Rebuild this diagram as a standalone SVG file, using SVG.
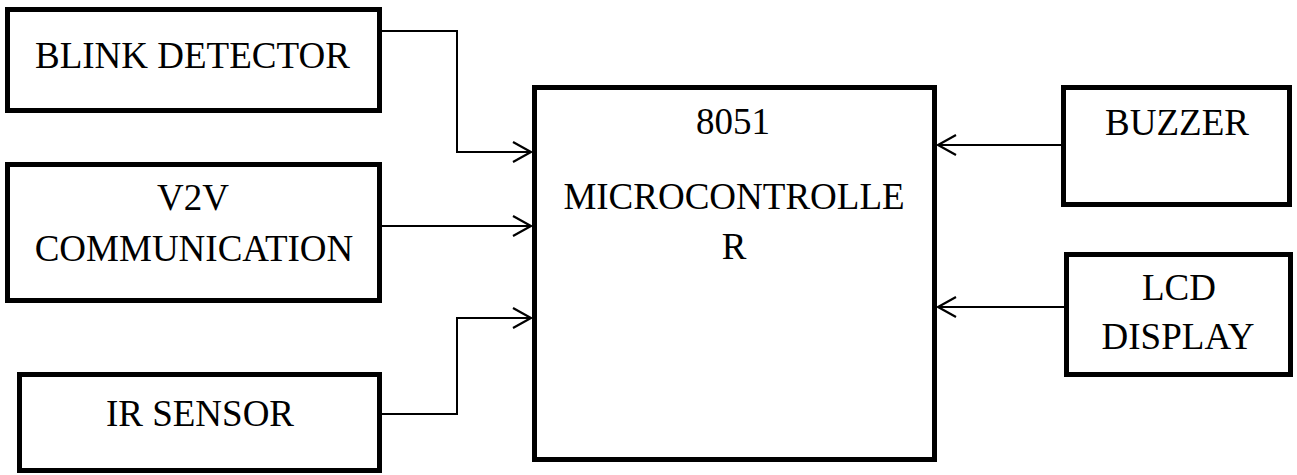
<svg xmlns="http://www.w3.org/2000/svg" width="1297" height="475" viewBox="0 0 1297 475">
<style>
.box{fill:#fff;stroke:#000;stroke-width:5}
.t{font-family:"Liberation Serif","Times New Roman",serif;font-size:37px;fill:#000}
.c{text-anchor:middle}
.ln{fill:none;stroke:#000;stroke-width:2}
</style>
<defs>
<marker id="arr" markerUnits="userSpaceOnUse" markerWidth="24" markerHeight="26" refX="20" refY="12" orient="auto">
<path d="M2,2 L20,12 L2,22" fill="none" stroke="#000" stroke-width="2.2"/>
</marker>
</defs>
<rect width="1297" height="475" fill="#fff"/>
<g id="connectors">
<polyline class="ln" points="382,31 457,31 457,152 531,152" marker-end="url(#arr)"/>
<polyline class="ln" points="382,226 531,226" marker-end="url(#arr)"/>
<polyline class="ln" points="382,414 457,414 457,318 531,318" marker-end="url(#arr)"/>
<polyline class="ln" points="1062,145 938,145" marker-end="url(#arr)"/>
<polyline class="ln" points="1064,307 938,307" marker-end="url(#arr)"/>
</g>
<g id="blink">
<rect class="box" x="7.5" y="9.5" width="372" height="101"/>
<text class="t" x="35" y="68">BLINK DETECTOR</text>
</g>
<g id="v2v">
<rect class="box" x="7.5" y="164.5" width="372" height="136"/>
<text class="t c" x="193" y="210">V2V</text>
<text class="t c" x="194" y="261">COMMUNICATION</text>
</g>
<g id="ir">
<rect class="box" x="19.5" y="374.5" width="360" height="96"/>
<text class="t c" x="200" y="426">IR SENSOR</text>
</g>
<g id="mcu">
<rect class="box" x="534.5" y="87.5" width="400" height="372"/>
<text class="t c" x="733" y="134">8051</text>
<text class="t c" x="734" y="209">MICROCONTROLLE</text>
<text class="t c" x="734" y="259">R</text>
</g>
<g id="buzzer">
<rect class="box" x="1063.5" y="87.5" width="226" height="117"/>
<text class="t c" x="1177" y="135">BUZZER</text>
</g>
<g id="lcd">
<rect class="box" x="1066.5" y="254.5" width="224" height="120"/>
<text class="t c" x="1179" y="300">LCD</text>
<text class="t c" x="1178" y="349">DISPLAY</text>
</g>
</svg>
